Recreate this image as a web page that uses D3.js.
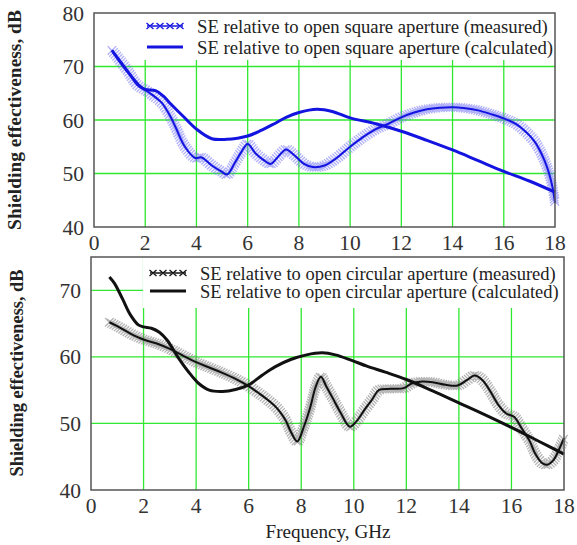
<!DOCTYPE html>
<html><head><meta charset="utf-8">
<script src="https://cdn.jsdelivr.net/npm/d3@7"></script>
<style>body{margin:0;background:#fff}svg{display:block}</style>
</head><body>
<svg id="c" width="577" height="545"></svg>
<script>
// ---------------- DATA ----------------
const xTicks = [0,2,4,6,8,10,12,14,16,18];
const yTicksTop = [40,50,60,70,80];
const yTicksBottom = [40,50,60,70];

const squareMeasuredF = [0.7,1.0,1.3,1.7,2.0,2.3,2.65,3.0,3.2,3.55,3.95,4.2,4.6,5.0,5.2,5.5,5.75,6.0,6.3,6.6,6.9,7.2,7.5,7.8,8.2,8.55,9.0,9.5,10.0,10.5,11.0,11.5,12.0,12.5,13.0,13.5,14.0,14.5,15.0,15.5,16.0,16.5,16.9,17.2,17.4,17.6,17.75,17.9,18.0];
const squareMeasuredSE = [73.0,71.2,69.3,66.5,65.6,64.6,63.2,60.5,58.5,55.0,52.9,53.0,51.5,50.3,49.8,52.0,54.0,55.5,53.8,52.6,51.8,53.2,54.5,53.5,51.8,51.2,51.5,53.0,55.0,56.8,58.3,59.3,60.5,61.4,62.0,62.3,62.4,62.2,61.8,61.1,60.3,59.2,57.6,56.0,54.4,52.3,50.3,47.5,44.5];

const squareCalcF = [0.7,1.0,1.4,1.8,2.0,2.4,2.7,3.0,3.5,4.0,4.6,5.2,5.6,6.0,6.5,7.0,7.5,8.0,8.7,9.3,10.0,11.0,12.0,13.0,14.0,15.0,16.0,17.0,18.0];
const squareCalcSE = [73.0,71.0,68.5,66.3,65.7,65.5,64.5,63.0,60.6,58.3,56.5,56.4,56.6,57.0,58.0,59.2,60.5,61.4,62.0,61.6,60.4,59.3,57.9,56.2,54.4,52.4,50.4,48.6,46.5];

const circMeasuredF = [0.7,1.0,1.5,2.0,2.5,3.0,3.5,4.0,4.5,5.0,5.5,6.0,6.4,6.8,7.1,7.4,7.6,7.85,8.1,8.35,8.55,8.75,8.95,9.2,9.5,9.85,10.1,10.4,10.7,10.95,11.4,11.9,12.2,12.6,13.0,13.5,13.95,14.3,14.6,14.9,15.2,15.5,15.8,16.1,16.4,16.7,16.9,17.15,17.35,17.6,17.8,18.0];
const circMeasuredSE = [65.2,64.6,63.5,62.6,62.0,61.2,60.2,59.2,58.4,57.6,56.7,55.6,54.5,53.3,52.2,50.5,48.8,47.3,49.5,52.5,55.5,57.0,55.6,53.8,51.6,49.5,50.3,52.0,53.6,55.0,55.2,55.3,56.0,56.3,56.2,55.8,55.7,56.5,57.2,56.5,54.8,52.8,51.5,51.0,49.2,47.3,45.5,44.1,43.8,44.5,46.0,47.8];

const circCalcF = [0.7,0.9,1.2,1.5,1.8,2.0,2.3,2.6,2.9,3.3,3.7,4.1,4.5,5.0,5.5,6.0,6.5,7.0,7.6,8.2,8.8,9.3,9.9,10.5,11.2,12.0,13.0,14.0,15.0,16.0,17.0,18.0];
const circCalcSE = [72.0,71.0,68.7,66.3,64.8,64.5,64.3,63.7,62.5,60.0,57.8,56.0,55.0,54.8,55.1,55.8,57.2,58.5,59.6,60.3,60.6,60.3,59.5,58.6,57.7,56.6,54.9,53.1,51.3,49.4,47.4,45.4];

const legendTop = ["SE relative to open square aperture (measured)","SE relative to open square aperture (calculated)"];
const legendBottom = ["SE relative to open circular aperture (measured)","SE relative to open circular aperture (calculated)"];
const yTitle = "Shielding effectiveness, dB";
const xTitle = "Frequency, GHz";

// ---------------- DRAW ----------------
const svg = d3.select("#c");
const SERIF = "'Liberation Serif','Times New Roman',serif";
const GRID = "#2fe82f";

function zip(f, v){ return f.map((d,i)=>({f:d, v:v[i]})); }
function fit(sel, target){
  const n = sel.node(); const fs = parseFloat(sel.attr("font-size"));
  const w = n.getComputedTextLength();
  sel.attr("font-size", (fs*target/w).toFixed(2));
}

function panel(cfg){
  const x = d3.scaleLinear().domain([0,18]).range([cfg.left, cfg.right]);
  const y = d3.scaleLinear().domain(cfg.ydom).range([cfg.bottom, cfg.top]);
  const g = svg.append("g");

  // grid
  g.selectAll(".vg").data(xTicks.slice(1,-1)).enter().append("line")
    .attr("x1", d=>x(d)).attr("x2", d=>x(d))
    .attr("y1", cfg.bottom).attr("y2", cfg.top)
    .attr("stroke", GRID).attr("stroke-width", 1.3);
  g.selectAll(".hg").data(cfg.yticks.filter(d=>d>cfg.ydom[0] && d<cfg.ydom[1])).enter().append("line")
    .attr("x1", cfg.left).attr("x2", cfg.right)
    .attr("y1", d=>y(d)).attr("y2", d=>y(d))
    .attr("stroke", GRID).attr("stroke-width", 1.3);

  // legend background
  g.append("rect").attr("x", cfg.legRect[0]).attr("y", cfg.top)
    .attr("width", cfg.right - cfg.legRect[0]).attr("height", cfg.legRect[1] - cfg.top)
    .attr("fill", "#fff");

  const line = d3.line().x(d=>x(d.f)).y(d=>y(d.v)).curve(d3.curveCatmullRom.alpha(0.5));

  // measured: hatch of × markers along the path
  const meas = zip(cfg.mf, cfg.mv);
  const mp = g.append("path").datum(meas).attr("d", line)
    .attr("fill","none").attr("stroke", cfg.dark).attr("stroke-width", 2);
  const node = mp.node();
  const L = node.getTotalLength();
  const pts = d3.range(0, L, 2.5).map(l => node.getPointAtLength(l));
  const s = 4.3;
  g.insert("path", () => node)
    .attr("d", pts.map(p => `M${p.x-s},${p.y-s}L${p.x+s},${p.y+s}M${p.x-s},${p.y+s}L${p.x+s},${p.y-s}`).join(""))
    .attr("stroke", cfg.light).attr("stroke-opacity", 0.55).attr("stroke-width", 1.3).attr("fill","none");

  // calculated
  g.append("path").datum(zip(cfg.cf, cfg.cv)).attr("d", line)
    .attr("fill","none").attr("stroke", cfg.dark).attr("stroke-width", 3)
    .attr("stroke-linejoin","round");

  // frame
  g.append("rect").attr("x", cfg.left).attr("y", cfg.top)
    .attr("width", cfg.right-cfg.left).attr("height", cfg.bottom-cfg.top)
    .attr("fill","none").attr("stroke","#555").attr("stroke-width",1.5);

  // axes labels
  g.selectAll(".xt").data(xTicks).enter().append("text")
    .attr("x", d=>x(d)).attr("y", cfg.xLabY).attr("text-anchor","middle")
    .attr("font-family", SERIF).attr("font-size", 21.5).attr("fill","#333").text(d=>d);
  g.selectAll(".yt").data(cfg.yticks).enter().append("text")
    .attr("x", cfg.left - 10).attr("y", d=>y(d)+7.5).attr("text-anchor","end")
    .attr("font-family", SERIF).attr("font-size", 21.5).attr("fill","#333").text(d=>d);

  // y title
  const yt = g.append("text").attr("transform", `translate(${cfg.yTitleX},${cfg.yTitleY}) rotate(-90)`)
    .attr("text-anchor","middle").attr("font-family", SERIF).attr("font-weight","bold")
    .attr("font-size", 16).attr("fill","#222").text(yTitle);
  fit(yt, cfg.yTitleLen);

  // legend
  const lg = g.append("g");
  cfg.legend.forEach((t,i)=>{
    const ly = cfg.legY[i];
    lg.append("line").attr("x1", cfg.legX0).attr("x2", cfg.legX0+36).attr("y1", ly).attr("y2", ly)
      .attr("stroke", cfg.dark).attr("stroke-width", i===0 ? 1.5 : 3);
    if(i===0){
      const mk = d3.range(0,4).map(k=>cfg.legX0+3+k*10);
      lg.append("path").attr("d", mk.map(px=>`M${px-3.5},${ly-3}L${px+3.5},${ly+3}M${px-3.5},${ly+3}L${px+3.5},${ly-3}`).join(""))
        .attr("stroke", cfg.dark).attr("stroke-width",1.3).attr("fill","none");
    }
    const tx = lg.append("text").attr("x", cfg.legTextX).attr("y", ly+7)
      .attr("font-family", SERIF).attr("font-size", 18).attr("fill","#222").text(t);
    fit(tx, cfg.legW[i]);
  });
  return {x,y};
}

panel({left:94, right:555, top:13, bottom:227, ydom:[40,80], yticks:yTicksTop,
  mf:squareMeasuredF, mv:squareMeasuredSE, cf:squareCalcF, cv:squareCalcSE,
  dark:"#1414e0", light:"#6f6ff5", legRect:[95,60], legend:legendTop,
  legY:[26,47], legX0:147, legTextX:197, legW:[351,356], xLabY:250,
  yTitleX:21, yTitleY:120, yTitleLen:220});

panel({left:91, right:564, top:257, bottom:490, ydom:[40,75], yticks:yTicksBottom,
  mf:circMeasuredF, mv:circMeasuredSE, cf:circCalcF, cv:circCalcSE,
  dark:"#111", light:"#777", legRect:[143,308], legend:legendBottom,
  legY:[273,291], legX0:150, legTextX:200, legW:[356,359], xLabY:513,
  yTitleX:23, yTitleY:373, yTitleLen:207});

const xt = svg.append("text").attr("x", 328).attr("y", 538).attr("text-anchor","middle")
  .attr("font-family", SERIF).attr("font-size", 17).attr("fill","#222").text(xTitle);
fit(xt, 125);
</script>
</body></html>
